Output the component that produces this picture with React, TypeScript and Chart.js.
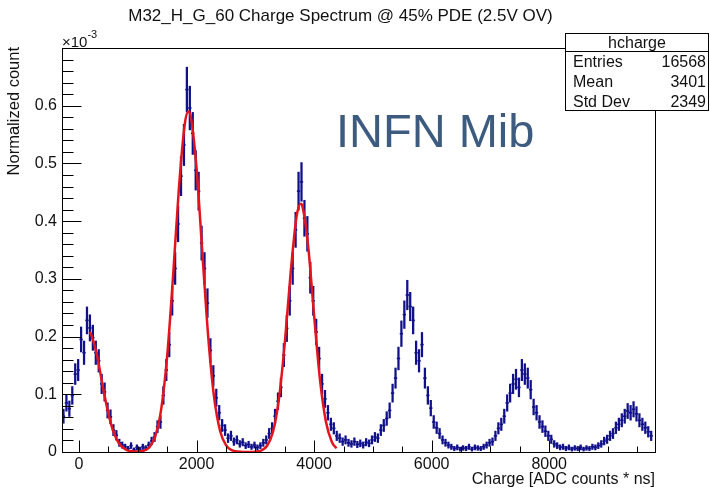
import { useEffect, useRef } from "react";
import { Chart, registerables } from "chart.js";

Chart.register(...registerables);

// ---------- data ----------
const TITLE = "M32_H_G_60 Charge Spectrum @ 45% PDE (2.5V OV)";
const X_TITLE = "Charge [ADC counts * ns]";
const Y_TITLE = "Normalized count";
const WATERMARK = "INFN Mib";
const HIST_NAME = "hcharge";
const statLabels = ["Entries", "Mean", "Std Dev"];
const statValues = ["16568", "3401", "2349"];

const BIN_START = -265; // centre of first bin
const BIN_WIDTH = 50;
// normalized count (units of 1e-3) per bin
const binValues = [
  0.062, 0.085, 0.075, 0.098, 0.135, 0.142, 0.195, 0.172, 0.228, 0.215,
  0.198, 0.172, 0.158, 0.118, 0.104, 0.072, 0.061, 0.038, 0.029, 0.016,
  0.012, 0.009, 0.006, 0.011, 0.004, 0.008, 0.005, 0.009, 0.007, 0.012,
  0.019, 0.026, 0.044, 0.052, 0.098, 0.142, 0.186, 0.262, 0.318, 0.395,
  0.478, 0.532, 0.628, 0.596, 0.552, 0.488, 0.452, 0.362, 0.318, 0.258,
  0.176, 0.132, 0.094, 0.068, 0.046, 0.038, 0.024, 0.028, 0.018, 0.021,
  0.014, 0.017, 0.011, 0.013, 0.009, 0.012, 0.008, 0.011, 0.016, 0.021,
  0.032, 0.041, 0.062, 0.088, 0.112, 0.168, 0.214, 0.262, 0.318, 0.385,
  0.452, 0.468, 0.405, 0.378, 0.302, 0.262, 0.208, 0.162, 0.118, 0.092,
  0.068, 0.048, 0.041, 0.028, 0.024, 0.018, 0.021, 0.016, 0.014, 0.018,
  0.013, 0.015, 0.012, 0.017, 0.015, 0.021, 0.026, 0.024, 0.038, 0.046,
  0.058, 0.072, 0.102, 0.128, 0.162, 0.205, 0.238, 0.272, 0.252, 0.228,
  0.172, 0.158, 0.186, 0.128, 0.098, 0.076, 0.052, 0.042, 0.032, 0.021,
  0.016, 0.012, 0.009, 0.006, 0.008, 0.005, 0.007, 0.006, 0.009, 0.005,
  0.008, 0.007, 0.006, 0.009, 0.012, 0.016, 0.018, 0.028, 0.041, 0.048,
  0.062, 0.085, 0.102, 0.118, 0.126, 0.112, 0.142, 0.135, 0.128, 0.108,
  0.078, 0.068, 0.052, 0.044, 0.036, 0.028, 0.022, 0.014, 0.011, 0.008,
  0.009, 0.006, 0.008, 0.005, 0.007, 0.006, 0.008, 0.005, 0.007, 0.006,
  0.009, 0.008, 0.011, 0.014, 0.019, 0.022, 0.028, 0.032, 0.042, 0.048,
  0.055, 0.062, 0.071, 0.068, 0.074, 0.066, 0.055, 0.048, 0.042, 0.035,
  0.028,
];
// Poisson error scale for the normalized histogram (err = sqrt(value * K))
const ERR_K = 0.0024;

const fitX = [
  180, 200, 300, 400, 500, 600, 700, 800, 900, 1000, 1100, 1200, 1300, 1400,
  1500, 1600, 1700, 1800, 1862, 1900, 2000, 2100, 2200, 2300, 2400, 2500, 2600,
  2700, 2800, 2900, 3000, 3100, 3200, 3300, 3400, 3500, 3600, 3700, 3770, 3800,
  3900, 4000, 4100, 4200, 4300, 4380,
];
const fitY = [
  0.208, 0.205, 0.17, 0.116, 0.066, 0.031, 0.012, 0.0039, 0.0011, 0.0007,
  0.0022, 0.0087, 0.0283, 0.0757, 0.167, 0.305, 0.458, 0.569, 0.59, 0.582,
  0.491, 0.342, 0.197, 0.0932, 0.0365, 0.0118, 0.0031, 0.0007, 0.0001, 0.0001,
  0.0005, 0.0026, 0.0108, 0.0351, 0.091, 0.188, 0.31, 0.407, 0.43, 0.426,
  0.355, 0.236, 0.125, 0.0529, 0.0178, 0.0063,
];

const xTickLabels = [0, 2000, 4000, 6000, 8000];
const yTickLabels = [0, 0.1, 0.2, 0.3, 0.4, 0.5, 0.6];
const X_MINOR = 500;
const X_MAJOR = 2000;
const Y_MINOR = 0.02;
const Y_MAJOR_EVERY = 5;

// ---------- style ----------
const FONT = '"Liberation Sans", Arial, Helvetica, sans-serif';
const NAVY = "#10108a";
const RED = "#e3141c";
const TEXT = "#111111";

const rootDecor = {
  id: "rootDecor",
  afterDraw(chart: any) {
    const ctx: CanvasRenderingContext2D = chart.ctx;
    const a = chart.chartArea;
    const x = chart.scales.x;
    const y = chart.scales.y;
    ctx.save();
    ctx.strokeStyle = "#000000";
    ctx.lineWidth = 1;
    const L = Math.round(a.left);
    const R = Math.round(a.right);
    const T = Math.round(a.top);
    const B = Math.round(a.bottom);
    // frame
    ctx.strokeRect(L + 0.5, T + 0.5, R - L, B - T);
    // x ticks (inside)
    for (let k = 0; k * X_MINOR <= x.max; k++) {
      const v = k * X_MINOR;
      const px = Math.round(x.getPixelForValue(v)) + 0.5;
      const len = v % X_MAJOR === 0 ? 12 : 6;
      ctx.beginPath();
      ctx.moveTo(px, B + 0.5);
      ctx.lineTo(px, B + 0.5 - len);
      ctx.stroke();
    }
    // y ticks (inside)
    for (let k = 0; k * Y_MINOR <= y.max + 1e-9; k++) {
      const v = k * Y_MINOR;
      const py = Math.round(y.getPixelForValue(v)) + 0.5;
      const len = k % Y_MAJOR_EVERY === 0 ? 19 : 11;
      ctx.beginPath();
      ctx.moveTo(L + 0.5, py);
      ctx.lineTo(L + 0.5 + len, py);
      ctx.stroke();
    }

    ctx.fillStyle = TEXT;
    ctx.textBaseline = "alphabetic";

    // title
    ctx.font = `17px ${FONT}`;
    ctx.textAlign = "center";
    ctx.fillText(TITLE, 340.5, 21);

    // exponent
    ctx.textAlign = "left";
    ctx.font = `15px ${FONT}`;
    ctx.fillText("\u00d710", 62, 46.5);
    const w = ctx.measureText("\u00d710").width;
    ctx.font = `11px ${FONT}`;
    ctx.fillText("-3", 62 + w, 38);

    // x title
    ctx.font = `16px ${FONT}`;
    ctx.textAlign = "right";
    ctx.fillText(X_TITLE, 655, 483.5);

    // y title
    ctx.save();
    ctx.font = `16.5px ${FONT}`;
    ctx.translate(18.5, 47);
    ctx.rotate(-Math.PI / 2);
    ctx.textAlign = "right";
    ctx.fillText(Y_TITLE, 0, 0);
    ctx.restore();

    // watermark
    ctx.fillStyle = "#3c5b7e";
    ctx.font = `47px ${FONT}`;
    ctx.textAlign = "left";
    ctx.fillText(WATERMARK, 336, 147);

    // stats box
    const bx = 565.5, by = 33.5, bw = 143, bh = 77;
    ctx.fillStyle = "#ffffff";
    ctx.fillRect(bx, by, bw, bh);
    ctx.strokeStyle = "#000";
    ctx.lineWidth = 1;
    ctx.strokeRect(bx, by, bw, bh);
    ctx.beginPath();
    ctx.moveTo(bx, 51.5);
    ctx.lineTo(bx + bw, 51.5);
    ctx.stroke();
    ctx.fillStyle = TEXT;
    ctx.font = `16px ${FONT}`;
    ctx.textAlign = "center";
    ctx.fillText(HIST_NAME, 637, 47.5);
    statLabels.forEach((lab, i) => {
      const yy = 66.7 + i * 20;
      ctx.textAlign = "left";
      ctx.fillText(lab, 573, yy);
      ctx.textAlign = "right";
      ctx.fillText(statValues[i], 706, yy);
    });
    ctx.restore();
  },
};

export default function App() {
  const ref = useRef<HTMLCanvasElement | null>(null);

  useEffect(() => {
    if (!ref.current) return;
    const centres = binValues.map((_, i) => BIN_START + i * BIN_WIDTH);
    const errBars = binValues.map((v, i) => {
      const e = Math.sqrt(v * ERR_K);
      return { x: centres[i], y: [v - e, v + e] };
    });
    const points = binValues.map((v, i) => ({ x: centres[i], y: v }));
    const fit = fitX.map((x, i) => ({ x, y: fitY[i] }));

    const chart = new Chart(ref.current, {
      type: "scatter",
      data: {
        datasets: [
          {
            type: "line",
            data: fit,
            borderColor: RED,
            borderWidth: 2.5,
            pointRadius: 0,
            fill: false,
            cubicInterpolationMode: "monotone",
            order: 0,
          } as any,
          {
            type: "bar",
            data: errBars,
            backgroundColor: NAVY,
            borderWidth: 0,
            barThickness: 1.6,
            grouped: false,
            order: 1,
          } as any,
          {
            type: "scatter",
            data: points,
            pointStyle: "line",
            borderColor: NAVY,
            backgroundColor: NAVY,
            borderWidth: 1.6,
            pointRadius: (c: any) => {
              const s = c.chart.scales.x;
              return (s.getPixelForValue(BIN_WIDTH) - s.getPixelForValue(0)) / 2 + 0.2;
            },
            pointHoverRadius: 1.5,
            order: 2,
          } as any,
        ],
      },
      options: {
        animation: false,
        responsive: true,
        maintainAspectRatio: false,
        events: [],
        layout: { padding: { top: 48, right: 55, left: 0, bottom: 0 } },
        plugins: {
          legend: { display: false },
          tooltip: { enabled: false },
          title: { display: false },
        },
        scales: {
          x: {
            type: "linear",
            min: -290,
            max: 9800,
            offset: false,
            grid: { display: false, drawTicks: false, offset: false },
            border: { display: false },
            afterBuildTicks: (s: any) => {
              s.ticks = xTickLabels.map((v) => ({ value: v }));
            },
            afterFit: (s: any) => {
              s.height = 37;
            },
            ticks: {
              autoSkip: false,
              maxRotation: 0,
              padding: 3,
              color: TEXT,
              font: { family: FONT, size: 16 },
              callback: (v: any) => String(v),
            },
          },
          y: {
            type: "linear",
            min: 0,
            max: 0.7,
            grid: { display: false, drawTicks: false },
            border: { display: false },
            afterBuildTicks: (s: any) => {
              s.ticks = yTickLabels.map((v) => ({ value: v }));
            },
            afterFit: (s: any) => {
              s.width = 62;
            },
            ticks: {
              autoSkip: false,
              padding: 5,
              color: TEXT,
              font: { family: FONT, size: 16 },
              callback: (v: any) => (v === 0 ? "0" : Number(v).toFixed(1)),
            },
          },
        },
      },
      plugins: [rootDecor],
    });
    return () => chart.destroy();
  }, []);

  return (
    <div
      style={{
        position: "absolute",
        left: 0,
        top: 0,
        width: 710,
        height: 489,
        background: "#fff",
      }}
    >
      <canvas ref={ref} />
    </div>
  );
}
